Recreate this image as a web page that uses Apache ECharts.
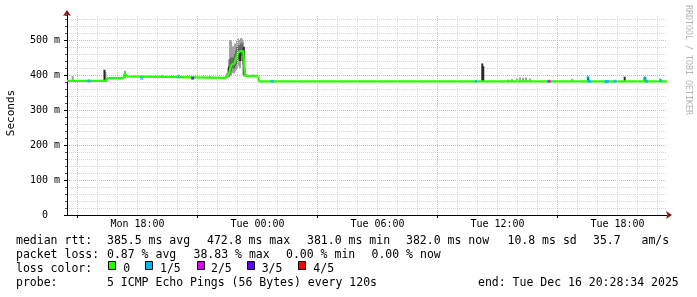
<!DOCTYPE html>
<html><head><meta charset="utf-8">
<script src="https://cdn.jsdelivr.net/npm/echarts@6/dist/echarts.min.js"></script>
<style>html,body{margin:0;padding:0;background:#fff}#c{width:697px;height:297px}</style>
</head><body><div id="c"></div>
<script>
// x in hours since Mon 00:00
const startHour = 14.476, endHour = 44.476;
const yMax = 571.4;
const xLabelHours = [18, 24, 30, 36, 42];
const xLabelTexts = ['Mon 18:00', 'Tue 00:00', 'Tue 06:00', 'Tue 12:00', 'Tue 18:00'];
const majorGridHours = [15, 21, 27, 33, 39];
const minorGridHours = [15,16,17,18,19,20,21,22,23,24,25,26,27,28,29,30,31,32,33,34,35,36,37,38,39,40,41,42,43,44];

// median rtt (ms)
const medianHour = [14.48,16.45,16.5,17.3,17.36,17.42,17.48,17.52,22.42,22.48,22.56,22.62,22.66,22.72,22.76,22.83,22.88,22.96,23.03,23.09,23.16,23.23,23.29,23.33,23.36,23.45,23.6,23.8,24.0,24.06,24.09,44.48];
const medianMs   = [383,383,391,391,405,404,396,391,392,393,400,405,424,430,435,432,440,452,464,460,468,473,468,432,399,396,397,398,397,398,382,382];

// smoke columns: hour, low, high, shade (0 light,1 mid,2 dark)
const smokeHour  = [14.76,16.35,16.40,17.38,19.23,20.03,21.63,
  22.43,22.48,22.53,22.58,22.63,22.68,22.73,22.78,22.83,22.88,22.93,22.98,23.03,23.08,23.13,23.18,23.23,23.28,23.33,23.38,23.43,
  22.58,22.63,22.68,22.73,22.78,22.83,22.88,22.93,22.98,23.03,23.08,23.13,23.18,23.23,23.28,23.33,
  22.58,23.13,23.31,
  35.24,35.29,36.53,36.73,36.98,37.13,37.28,37.43,37.63,39.73,40.53,42.36,43.36,44.13];
const smokeLow   = [383,383,383,391,391,391,391,
  392,392,394,396,398,400,405,410,405,410,415,420,430,425,420,440,450,430,396,395,394,
  398,405,410,420,420,418,425,430,440,448,445,450,455,460,440,405,
  396,440,400,
  382,382,382,382,382,382,382,382,382,382,382,382,382,382];
const smokeHigh  = [397,415,408,412,400,398,397,
  400,406,420,445,500,496,470,482,462,490,472,498,505,490,500,506,502,495,482,420,402,
  420,445,450,445,450,445,460,470,480,485,478,485,490,490,480,470,
  425,470,480,
  433,425,387,388,391,393,392,393,390,389,395,395,395,390];
const smokeShade = [0,2,0,0,0,0,0,
  0,0,0,0,0,0,0,0,0,0,0,0,0,0,0,0,0,0,0,0,0,
  1,1,1,1,1,1,1,1,1,1,1,1,1,1,1,1,
  2,2,2,
  2,2,0,0,0,0,0,0,0,0,2,2,2,0];

// packet loss markers (level = lost pings of 5)
const lossHour  = [15.58,18.21,20.03,20.76,24.73,34.96,38.58,40.53,40.6,41.43,41.5,41.88,43.38,43.45,44.16];
const lossMs    = [383,391,396,391,382,382,382,392,382,381,381,382,390,382,384];
const lossLevel = [1,1,1,3,1,1,2,1,1,1,1,1,1,1,1];

const lossColors = ['#26ff00', '#00b8ff', '#dd00ff', '#5e00ff', '#ff0000'];
const lossLabels = ['0', '1/5', '2/5', '3/5', '4/5'];
const smokeColors = ['#a0a0a0', '#686868', '#282828'];

const statRow1 = ['median rtt:', '385.5 ms avg', '472.8 ms max', '381.0 ms min', '382.0 ms now', '10.8 ms sd', '35.7', 'am/s'];
const statRow2 = ['packet loss:', '0.87 % avg', '38.83 % max', '0.00 % min', '0.00 % now'];
const probeRow = ['probe:', '5 ICMP Echo Pings (56 Bytes) every 120s', 'end: Tue Dec 16 20:28:34 2025'];
const lossTitle = 'loss color:';

const FONT = '"DejaVu Sans Mono", monospace';
const row1X = [16, 107, 207, 307, 406, 507.5, 593, 641.5];
const row2X = [16, 107, 193.5, 286, 371.5];
const row4X = [16, 107, 478];
const boxX = [108.5, 145.5, 197.5, 247.5, 298.5];
const boxLabelX = [123.3, 160, 211, 261.7, 313.3];
const GRID_MINOR = '#d6d6d6', GRID_MAJOR = '#eeaaaa';

const chart = echarts.init(document.getElementById('c'), null, {renderer: 'canvas'});

const gfx = [];
function txt(x, y, s, size, extra) {
  gfx.push(Object.assign({type: 'text', x: x, y: y, silent: true,
    style: {text: s, font: size + 'px ' + FONT, fill: '#000', verticalAlign: 'middle', textAlign: 'left'}}, extra || {}));
}
statRow1.forEach((s, i) => txt(row1X[i], 241, s, 11.5));
statRow2.forEach((s, i) => txt(row2X[i], 255, s, 11.5));
txt(16, 269, lossTitle, 11.5);
lossLabels.forEach((s, i) => {
  gfx.push({type: 'rect', shape: {x: boxX[i], y: 261.5, width: 7, height: 8}, silent: true,
    style: {fill: lossColors[i], stroke: '#000', lineWidth: 1}});
  txt(boxLabelX[i], 269, s, 11.5);
});
probeRow.forEach((s, i) => txt(row4X[i], 283, s, 11.5));
// y axis title
gfx.push({type: 'text', x: 11, y: 113, rotation: Math.PI / 2, silent: true,
  style: {text: 'Seconds', font: '11px ' + FONT, fill: '#000', textAlign: 'center', verticalAlign: 'middle'}});
// watermark
gfx.push({type: 'text', x: 688, y: 60, rotation: -Math.PI / 2, silent: true,
  style: {text: 'RRDTOOL / TOBI OETIKER', font: '8.3px ' + FONT, fill: '#b4b4b4', textAlign: 'center', verticalAlign: 'middle'}});

const smokeData = smokeHour.map((h, i) => [h, smokeLow[i], smokeHigh[i], smokeShade[i]])
  .sort((a, b) => a[3] - b[3]);

const option = {
  animation: false,
  backgroundColor: '#fff',
  grid: {left: 67, top: 15, width: 600, height: 200, containLabel: false},
  xAxis: [{
    type: 'value', min: startHour, max: endHour,
    axisLine: {show: true, onZero: false, lineStyle: {color: '#000', width: 1}},
    axisTick: {show: true, length: 3, customValues: majorGridHours, lineStyle: {color: '#000'}},
    axisLabel: {show: true, customValues: xLabelHours, margin: 4, color: '#000',
      fontFamily: FONT, fontSize: 10,
      formatter: v => { const i = xLabelHours.findIndex(h => Math.abs(h - v) < 1e-6); return i >= 0 ? xLabelTexts[i] : ''; }},
    splitLine: {show: false}
  }, {
    type: 'value', min: startHour, max: endHour, position: 'bottom',
    axisLine: {show: true, onZero: false, symbol: ['none', 'arrow'], symbolSize: [6, 6], symbolOffset: [0, 5],
      lineStyle: {color: '#8b1010', width: 0}},
    axisTick: {show: false}, axisLabel: {show: false}, splitLine: {show: false}
  }],
  yAxis: [{
    type: 'value', min: 0, max: yMax, interval: 20,
    axisLine: {show: true, lineStyle: {color: '#000', width: 1}},
    axisTick: {show: true, length: 2, lineStyle: {color: '#555'}},
    axisLabel: {show: false},
    splitLine: {show: true, showMinLine: false, showMaxLine: false, lineStyle: {color: GRID_MINOR, type: [1, 1], width: 1}}
  }, {
    type: 'value', min: 0, max: yMax, interval: 100, position: 'left',
    axisLine: {show: true, symbol: ['none', 'arrow'], symbolSize: [6, 6], symbolOffset: [0, 5],
      lineStyle: {color: '#8b1010', width: 0}},
    axisTick: {show: true, length: 3, lineStyle: {color: '#000'}},
    axisLabel: {show: true, margin: 7, color: '#000', fontFamily: FONT, fontSize: 10,
      showMaxLabel: false,
      formatter: v => v === 0 ? '0  ' : (v % 100 === 0 ? v + ' m' : '')},
    splitLine: {show: true, showMinLine: false, showMaxLine: false, lineStyle: {color: GRID_MAJOR, type: [1, 1], width: 1}}
  }],
  graphic: gfx,
  series: [{
    type: 'line', z: 1, data: [], silent: true, xAxisIndex: 0, yAxisIndex: 0,
    markLine: {
      silent: true, symbol: ['none', 'none'], label: {show: false}, animation: false,
      data: minorGridHours.filter(h => majorGridHours.indexOf(h) < 0).map(h => ({xAxis: h, lineStyle: {color: GRID_MINOR, type: [1, 1], width: 1}}))
        .concat(majorGridHours.map(h => ({xAxis: h, lineStyle: {color: GRID_MAJOR, type: [1, 1], width: 1}})))
    }
  }, {
    type: 'custom', z: 2, silent: true, xAxisIndex: 0, yAxisIndex: 0,
    data: smokeData,
    renderItem: (params, api) => {
      const x = api.value(0), lo = api.value(1), hi = api.value(2), sh = api.value(3);
      const p1 = api.coord([x, hi]), p2 = api.coord([x, lo]);
      const w = Math.max(2, api.size([0.05, 0])[0] * 2);
      return {type: 'rect', shape: {x: p1[0] - w / 2, y: p1[1], width: w, height: p2[1] - p1[1]},
        style: {fill: smokeColors[sh], stroke: null}};
    }
  }, {
    type: 'line', z: 3, silent: true, showSymbol: false, xAxisIndex: 0, yAxisIndex: 0,
    data: medianHour.map((h, i) => [h, medianMs[i]]),
    lineStyle: {color: lossColors[0], width: 2.2}
  }, {
    type: 'scatter', z: 4, silent: true, xAxisIndex: 0, yAxisIndex: 0,
    symbol: 'rect', symbolSize: [3, 3],
    data: lossHour.map((h, i) => ({value: [h, lossMs[i]], itemStyle: {color: lossColors[lossLevel[i]]}}))
  }]
};
chart.setOption(option);
</script></body></html>
